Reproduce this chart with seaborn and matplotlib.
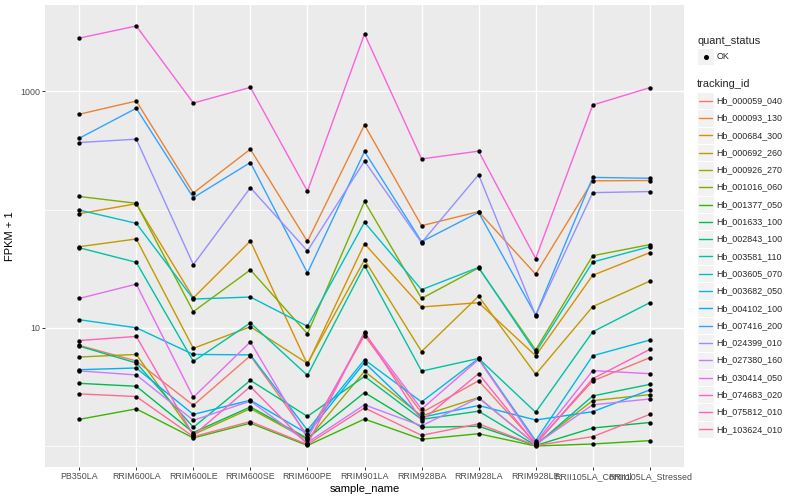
import numpy as np
import pandas as pd
import matplotlib
matplotlib.use("Agg")
import matplotlib.pyplot as plt
from matplotlib.patches import Rectangle
from matplotlib.lines import Line2D
from matplotlib.ticker import FixedLocator, NullFormatter
import seaborn as sns

# ---------------- data (FPKM + 1) ----------------
samples = ["PB350LA", "RRIM600LA", "RRIM600LE", "RRIM600SE", "RRIM600PE",
           "RRIM901LA", "RRIM928BA", "RRIM928LA", "RRIM928LE",
           "RRII105LA_Control", "RRII105LA_Stressed"]

tracking_ids = ["Hb_000059_040", "Hb_000093_130", "Hb_000684_300", "Hb_000692_260",
                "Hb_000926_270", "Hb_001016_060", "Hb_001377_050", "Hb_001633_100",
                "Hb_002843_100", "Hb_003581_110", "Hb_003605_070", "Hb_003682_050",
                "Hb_004102_100", "Hb_007416_200", "Hb_024399_010", "Hb_027380_160",
                "Hb_030414_050", "Hb_074683_020", "Hb_075812_010", "Hb_103624_010"]

hb_000059_040 = [7.1, 5.24, 2.21, 5.8, 1.23, 8.6, 1.91, 3.57, 1.05, 3.55, 5.58]
hb_000093_130 = [640, 828, 138, 324, 53.7, 520, 73, 96, 28.4, 175, 176]
hb_000684_300 = [92.2, 112, 17.9, 54.2, 4.9, 51.4, 15, 16.3, 5.8, 27.8, 43.2]
hb_000692_260 = [48.5, 56.4, 6.7, 10.2, 5.0, 37.5, 6.3, 18.5, 4.04, 15.1, 24.8]
hb_000926_270 = [5.66, 5.95, 1.25, 2.07, 1.13, 4.28, 1.80, 2.57, 1.03, 2.42, 2.72]
hb_001016_060 = [129, 113, 13.7, 30.9, 8.9, 117, 17.7, 32.1, 6.5, 40.7, 50.5]
hb_001377_050 = [1.68, 2.06, 1.17, 1.56, 1.01, 1.69, 1.14, 1.27, 1.0, 1.04, 1.11]
hb_001633_100 = [3.39, 3.2, 1.30, 2.14, 1.16, 2.83, 1.44, 1.47, 1.01, 1.42, 1.58]
hb_002843_100 = [7.0, 5.04, 1.44, 3.59, 1.78, 3.88, 1.68, 1.97, 1.01, 2.65, 3.32]
hb_003581_110 = [47.5, 35.8, 5.2, 11.0, 3.96, 33.6, 4.3, 5.5, 1.93, 9.25, 16.3]
hb_003605_070 = [99, 76.5, 17.5, 18.2, 10.3, 78, 21, 32.4, 6.2, 36, 48.5]
hb_003682_050 = [11.7, 10.0, 5.95, 5.9, 1.36, 5.37, 2.36, 5.5, 1.11, 5.8, 7.87]
hb_004102_100 = [4.42, 4.57, 1.85, 2.44, 1.27, 5.07, 1.75, 2.2, 1.66, 1.95, 2.98]
hb_007416_200 = [401, 719, 126, 250, 29.1, 310, 53.5, 94.7, 12.8, 187, 184]
hb_024399_010 = [369, 394, 34.2, 153, 44.7, 257, 52.5, 197, 12.7, 139, 142]
hb_027380_160 = [4.32, 3.99, 1.65, 2.4, 1.07, 2.23, 1.48, 2.55, 1.03, 2.23, 2.50]
hb_030414_050 = [17.7, 23.4, 2.58, 7.6, 1.16, 8.95, 2.05, 5.4, 1.07, 4.34, 4.09]
hb_074683_020 = [2820, 3570, 796, 1081, 143, 3055, 268, 312, 38.5, 766, 1074]
hb_075812_010 = [7.8, 8.45, 1.23, 3.18, 1.03, 9.2, 1.64, 4.09, 1.03, 3.71, 6.56]
hb_103624_010 = [2.76, 2.62, 1.20, 1.61, 1.03, 2.10, 1.23, 1.54, 1.01, 1.20, 1.85]

quant_status = ["OK"]
y_tick_values = [10, 1000]
y_minor_values = [1, 100]

series = [hb_000059_040, hb_000093_130, hb_000684_300, hb_000692_260, hb_000926_270,
          hb_001016_060, hb_001377_050, hb_001633_100, hb_002843_100, hb_003581_110,
          hb_003605_070, hb_003682_050, hb_004102_100, hb_007416_200, hb_024399_010,
          hb_027380_160, hb_030414_050, hb_074683_020, hb_075812_010, hb_103624_010]

# ggplot2 default hue palette for 20 levels
palette = ["#F8766D", "#EA8331", "#D89000", "#C09B00", "#A3A500", "#7CAE00", "#39B600",
           "#00BB4E", "#00BF7D", "#00C1A3", "#00BFC4", "#00BAE0", "#00B0F6", "#35A2FF",
           "#9590FF", "#C77CFF", "#E76BF3", "#FA62DB", "#FF62BC", "#FF6C91"]

rows = []
for tid, vals in zip(tracking_ids, series):
    for s, v in zip(samples, vals):
        rows.append({"tracking_id": tid, "sample_name": s, "fpkm1": v, "quant_status": "OK"})
df = pd.DataFrame(rows)
df["xpos"] = df["sample_name"].map({s: i for i, s in enumerate(samples)})

# ---------------- plot ----------------
sns.set_style("white")
plt.rcParams["font.family"] = ["Liberation Sans", "DejaVu Sans"]

W, H = 800, 500
fig = plt.figure(figsize=(8, 5), dpi=100)
ax = fig.add_axes([45 / W, 1 - 467 / H, (684 - 45) / W, (467 - 5) / H])
ax.set_facecolor("#EBEBEB")

sns.lineplot(data=df, x="xpos", y="fpkm1", hue="tracking_id", hue_order=tracking_ids,
             palette=palette, sort=False, estimator=None, errorbar=None,
             linewidth=1.0, legend=False, ax=ax, zorder=3)
sns.scatterplot(data=df, x="xpos", y="fpkm1", color="black", s=10, linewidth=0,
                legend=False, ax=ax, zorder=4)

ax.set_yscale("log")
lo, hi = np.log10(df["fpkm1"].min()), np.log10(df["fpkm1"].max())
pad = 0.05 * (hi - lo)
ax.set_ylim(10 ** (lo - pad), 10 ** (hi + pad))
ax.set_xlim(-0.6, len(samples) - 1 + 0.6)

ax.yaxis.set_major_locator(FixedLocator(y_tick_values))
ax.yaxis.set_minor_locator(FixedLocator(y_minor_values))
ax.yaxis.set_minor_formatter(NullFormatter())
ax.set_yticklabels([str(v) for v in y_tick_values])
ax.set_xticks(range(len(samples)))
ax.set_xticklabels(samples)

ax.grid(True, which="major", color="white", linewidth=1.0)
ax.grid(True, which="minor", axis="y", color="white", linewidth=0.55)
ax.set_axisbelow(True)
for sp in ax.spines.values():
    sp.set_visible(False)

ax.tick_params(axis="both", which="major", length=2.0, width=0.7, color="#333333",
               labelsize=6.4, labelcolor="#4D4D4D", pad=1.5)
ax.tick_params(axis="y", which="minor", length=0)
ax.tick_params(axis="both", which="both", left=True, bottom=True)

ax.set_xlabel("sample_name", fontsize=8, color="black", labelpad=2)
ax.set_ylabel("FPKM + 1", fontsize=8, color="black", labelpad=4)

# ---------------- legends (ggplot style) ----------------
def fx(x):
    return x / W

def fy(y):
    return 1 - y / H

key = 17.3
kx = 697
tx = 716.5

fig.text(fx(kx), fy(40.7), "quant_status", fontsize=7.9, va="center", ha="left")
fig.add_artist(Rectangle((fx(kx), fy(56.7 + key / 2)), key / W, key / H,
                         facecolor="#F2F2F2", edgecolor="white", linewidth=0.8,
                         transform=fig.transFigure))
fig.add_artist(Line2D([fx(kx + key / 2)], [fy(56.7)], marker="o", color="black",
                      markersize=2.6, linestyle="none", transform=fig.transFigure))
fig.text(fx(tx), fy(56.7), quant_status[0], fontsize=6.4, va="center", ha="left")

fig.text(fx(kx), fy(84.3), "tracking_id", fontsize=7.9, va="center", ha="left")
for i, (tid, col) in enumerate(zip(tracking_ids, palette)):
    yc = 100.7 + i * key
    fig.add_artist(Rectangle((fx(kx), fy(yc + key / 2)), key / W, key / H,
                             facecolor="#F2F2F2", edgecolor="white", linewidth=0.8,
                             transform=fig.transFigure))
    fig.add_artist(Line2D([fx(kx + 2), fx(kx + key - 2)], [fy(yc), fy(yc)], color=col,
                          linewidth=1.0, transform=fig.transFigure))
    fig.text(fx(tx), fy(yc), tid, fontsize=6.4, va="center", ha="left")

fig.savefig("out.png", dpi=100, facecolor="white")
